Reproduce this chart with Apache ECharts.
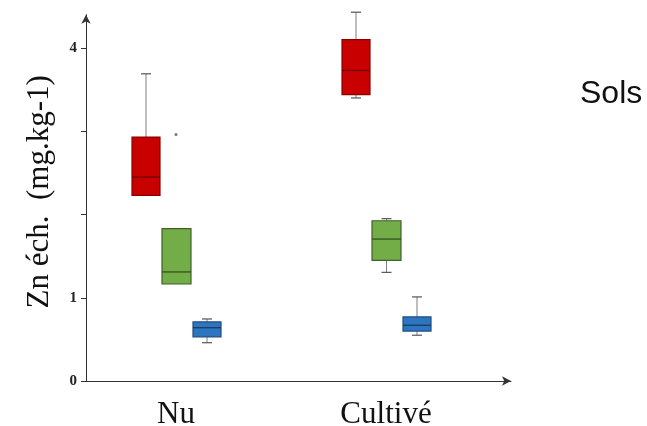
<!DOCTYPE html>
<html>
<head>
<meta charset="utf-8">
<script src="https://cdn.jsdelivr.net/npm/echarts@6/dist/echarts.min.js"></script>
<style>html,body{margin:0;padding:0;background:#fff}#c{width:647px;height:426px}</style>
</head>
<body>
<div id="c"></div>
<script>
// ---- data ----
const categories = ['Nu', 'Cultivé'];
// each row: [min, Q1, median, Q3, max]
const rouge = [[2.23, 2.23, 2.45, 2.93, 3.69], [3.40, 3.44, 3.73, 4.10, 4.43]];
const vert  = [[1.165, 1.165, 1.31, 1.83, 1.83], [1.305, 1.45, 1.705, 1.925, 1.95]];
const bleu  = [[0.46, 0.53, 0.64, 0.71, 0.745], [0.55, 0.60, 0.67, 0.77, 1.01]];
const vertOutliers = [['Nu', 2.96]];
const yTicks = [0, 1, 2, 3, 4];
const yLabels = [0, 1, 4];
const yName = 'Zn éch.  (mg.kg-1)';
const title = 'Sols';

const SERIF = '"Liberation Serif","Times New Roman",serif';
const yMin = 0, yMax = 4.4;

function boxRenderer(offset, halfW, fill, border, medianColor) {
  return function (params, api) {
    const ci = api.value(0);
    const v = [1, 2, 3, 4, 5].map(i => api.value(i));
    const pt = val => api.coord([ci, val]);
    const cx = pt(v[0])[0] + offset;
    const yMinP = pt(v[0])[1], yQ1 = pt(v[1])[1], yMed = pt(v[2])[1], yQ3 = pt(v[3])[1], yMaxP = pt(v[4])[1];
    const cap = 5;
    const children = [];
    const wStyle = { stroke: '#7f7f7f', lineWidth: 1 };
    const cStyle = { stroke: '#555', lineWidth: 1.2 };
    if (Math.abs(yMaxP - yQ3) > 0.5) {
      children.push({ type: 'line', shape: { x1: cx, y1: yMaxP, x2: cx, y2: yQ3 }, style: wStyle });
      children.push({ type: 'line', shape: { x1: cx - cap, y1: yMaxP, x2: cx + cap, y2: yMaxP }, style: cStyle });
    }
    if (Math.abs(yMinP - yQ1) > 0.5) {
      children.push({ type: 'line', shape: { x1: cx, y1: yQ1, x2: cx, y2: yMinP }, style: wStyle });
      children.push({ type: 'line', shape: { x1: cx - cap, y1: yMinP, x2: cx + cap, y2: yMinP }, style: cStyle });
    }
    children.push({ type: 'rect', shape: { x: cx - halfW, y: yQ3, width: halfW * 2, height: yQ1 - yQ3 },
      style: { fill: fill, stroke: border, lineWidth: 1.2 } });
    children.push({ type: 'line', shape: { x1: cx - halfW, y1: yMed, x2: cx + halfW, y2: yMed },
      style: { stroke: medianColor, lineWidth: 1.2 } });
    return { type: 'group', children: children };
  };
}

function toRows(arr) { return arr.map((r, i) => [i].concat(r)); }

const chart = echarts.init(document.getElementById('c'), null, { renderer: 'canvas' });
chart.setOption({
  animation: false,
  backgroundColor: '#ffffff',
  title: {
    text: title, left: 575, top: 73,
    textStyle: { fontFamily: '"Liberation Sans",Arial,sans-serif', fontWeight: 'normal', fontSize: 32, color: '#111' }
  },
  grid: [
    { left: 86, right: 136, top: 14.7, bottom: 45, outerBoundsMode: 'none', containLabel: false },
    { left: 71, right: 156, top: 14.7, bottom: 45, outerBoundsMode: 'none', containLabel: false }
  ],
  xAxis: [
    { gridIndex: 0, type: 'value', min: 0, max: 1,
      axisLine: { show: true, symbol: ['none', 'arrow'], symbolSize: [7, 9], lineStyle: { color: '#333', width: 1 } },
      axisTick: { show: false }, axisLabel: { show: false }, splitLine: { show: false } },
    { gridIndex: 1, type: 'category', data: categories,
      axisLine: { show: false }, axisTick: { show: false }, splitLine: { show: false },
      axisLabel: { margin: 18, fontFamily: SERIF, fontSize: 31, color: '#111', interval: 0 } }
  ],
  yAxis: [
    { gridIndex: 0, type: 'value', min: yMin, max: yMax, interval: 1,
      name: yName, nameLocation: 'middle', nameGap: 31, nameRotate: 90,
      nameTextStyle: { fontFamily: SERIF, fontSize: 31, color: '#111', padding: [0, 0, 0, 12] },
      axisLine: { show: true, symbol: ['none', 'arrow'], symbolSize: [7, 9], lineStyle: { color: '#333', width: 1 } },
      axisTick: { show: true, length: 5, customValues: yTicks, lineStyle: { color: '#333' } },
      axisLabel: { customValues: yLabels, margin: 9, fontFamily: SERIF, fontWeight: 'bold', fontSize: 15, color: '#222' },
      splitLine: { show: false } },
    { gridIndex: 1, type: 'value', min: yMin, max: yMax, show: false, splitLine: { show: false } }
  ],
  series: [
    { type: 'custom', xAxisIndex: 1, yAxisIndex: 1, data: toRows(rouge), encode: { x: 0, y: [1, 2, 3, 4, 5] },
      renderItem: boxRenderer(-30, 14, '#C80000', '#8a0000', '#6a0000') },
    { type: 'custom', xAxisIndex: 1, yAxisIndex: 1, data: toRows(vert), encode: { x: 0, y: [1, 2, 3, 4, 5] },
      renderItem: boxRenderer(0.5, 14.5, '#72AD47', '#40612a', '#2f4a1e') },
    { type: 'custom', xAxisIndex: 1, yAxisIndex: 1, data: toRows(bleu), encode: { x: 0, y: [1, 2, 3, 4, 5] },
      renderItem: boxRenderer(31, 14, '#2E75C0', '#1f4e82', '#17375e') },
    { type: 'scatter', xAxisIndex: 1, yAxisIndex: 1, data: vertOutliers, symbolSize: 3,
      itemStyle: { color: '#555' } }
  ]
});
</script>
</body>
</html>
